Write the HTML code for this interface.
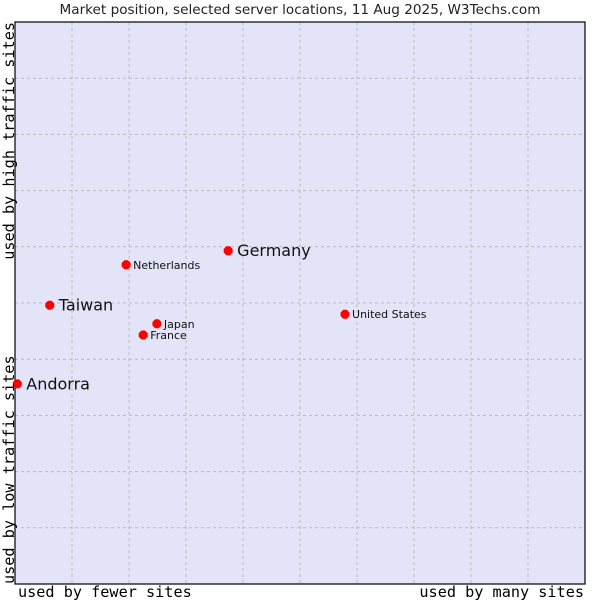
<!DOCTYPE html>
<html><head><meta charset="utf-8"><style>
body{margin:0;background:#fff;width:600px;height:600px;overflow:hidden}
svg{display:block}
</style></head><body>
<svg width="600" height="600" xmlns="http://www.w3.org/2000/svg">
<text x="300" y="14" text-anchor="middle" font-family="DejaVu Sans, sans-serif" font-size="13.6" fill="#222">Market position, selected server locations, 11 Aug 2025, W3Techs.com</text>
<rect x="15" y="22" width="570" height="562" fill="#e3e4f8"/>
<g id="grid"></g>
<rect x="15" y="22" width="570" height="562" fill="none" stroke="#000" stroke-width="1.2"/>
<g id="pts"></g>
<text transform="translate(14,22) rotate(-90)" text-anchor="end" font-family="DejaVu Sans Mono, monospace" font-size="15.2" fill="#000">used by high traffic sites</text>
<text transform="translate(14,584) rotate(-90)" text-anchor="start" font-family="DejaVu Sans Mono, monospace" font-size="15.2" fill="#000">used by low traffic sites</text>
<text x="18" y="597" font-family="DejaVu Sans Mono, monospace" font-size="15.2" fill="#000">used by fewer sites</text>
<text x="584" y="597" text-anchor="end" font-family="DejaVu Sans Mono, monospace" font-size="15.2" fill="#000">used by many sites</text>
</svg>
<script>
const countries=["Andorra","Taiwan","Netherlands","Germany","Japan","France","United States"];
const xValues=[0.04,0.61,1.95,3.74,2.49,2.25,5.79];
const yValues=[3.56,4.96,5.68,5.93,4.63,4.43,4.80];
const bigLabel=[true,true,false,true,false,false,false];
const NS="http://www.w3.org/2000/svg";
const X0=15,W=570,Y0=584,H=562;
function sx(v){return X0+v/10*W}
function sy(v){return Y0-v/10*H}
const g=document.getElementById('grid');
for(let i=1;i<10;i++){
 const l=document.createElementNS(NS,'line');
 l.setAttribute('x1',sx(i));l.setAttribute('x2',sx(i));l.setAttribute('y1',22);l.setAttribute('y2',584);
 l.setAttribute('stroke','#bbb');l.setAttribute('stroke-dasharray','3,3');
 
 
 g.appendChild(l);
 const h=document.createElementNS(NS,'line');
 h.setAttribute('y1',sy(i));h.setAttribute('y2',sy(i));h.setAttribute('x1',15);h.setAttribute('x2',585);
 h.setAttribute('stroke','#bbb');h.setAttribute('stroke-dasharray','3,3');
 
 
 g.appendChild(h);
}
const p=document.getElementById('pts');
countries.forEach((c,i)=>{
 const x=sx(xValues[i]),y=sy(yValues[i]);
 const m=document.createElementNS(NS,'polygon');
 m.setAttribute('points',`${x-4.5},${y-1.8} ${x-1.8},${y-4.5} ${x+1.8},${y-4.5} ${x+4.5},${y-1.8} ${x+4.5},${y+1.8} ${x+1.8},${y+4.5} ${x-1.8},${y+4.5} ${x-4.5},${y+1.8}`);
 m.setAttribute('fill','#f00');
 
 
 p.appendChild(m);
 const t=document.createElementNS(NS,'text');
 const big=bigLabel[i];
 t.setAttribute('x',x+(big?9:7));t.setAttribute('y',y+(big?5.5:4));
 t.setAttribute('font-family','DejaVu Sans, sans-serif');
 t.setAttribute('font-size',big?16:11);
 t.setAttribute('fill','#111');
 t.textContent=c;
 
 
 p.appendChild(t);
});
</script>
</body></html>
